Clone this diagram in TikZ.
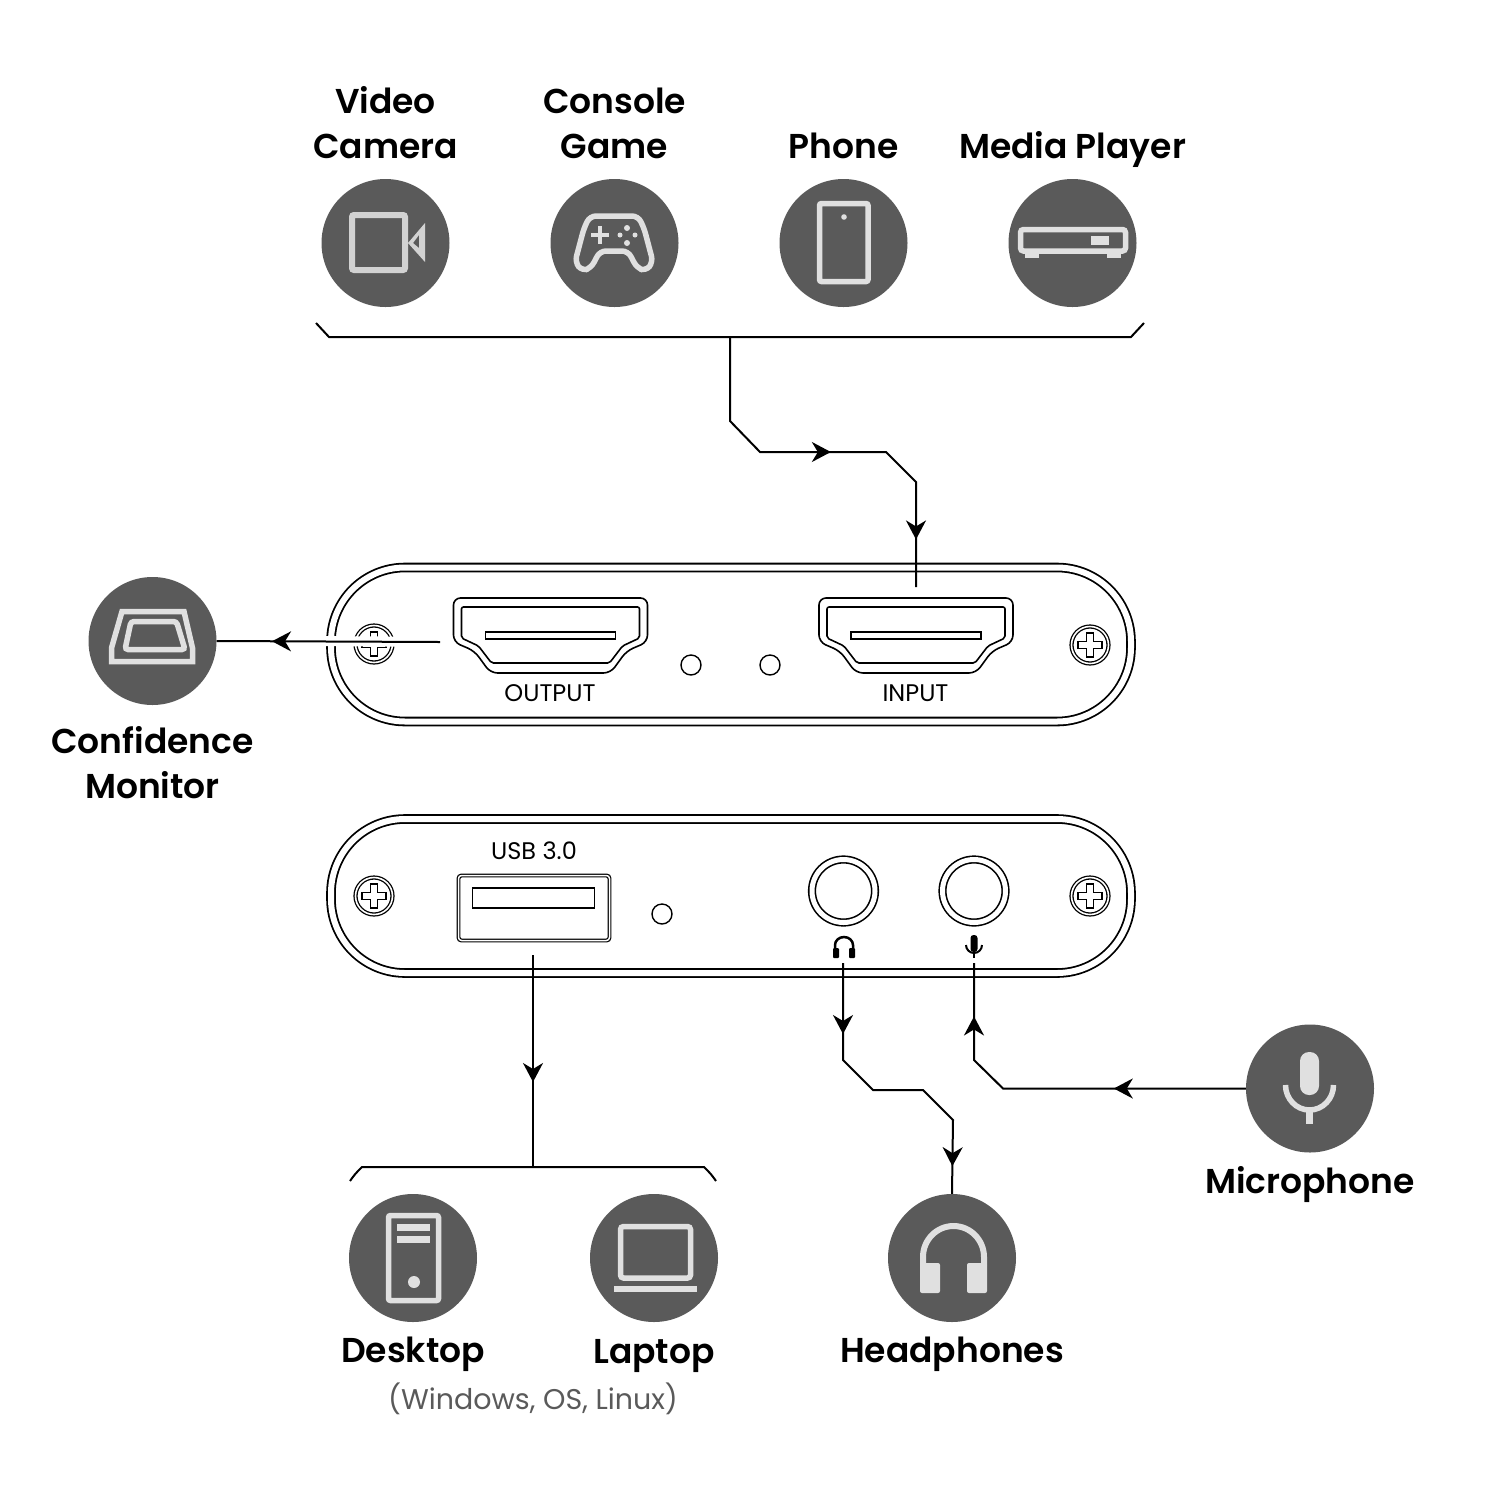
\documentclass[tikz,border=0pt]{standalone}
\usepackage{fontspec}
\setmainfont{Poppins}[BoldFont={Poppins SemiBold}]
\usetikzlibrary{positioning,arrows.meta,decorations.markings}
\definecolor{disc}{HTML}{5A5A5A}
\definecolor{glyph}{HTML}{E0E0E0}
\definecolor{camglyph}{HTML}{D2D2D2}
\tikzstyle{devcircle} = [circle, fill=disc, minimum size=128pt, inner sep=0pt]
\tikzstyle{devlabel} = [font=\fontsize{34.5}{45}\selectfont\bfseries, align=center, inner sep=0pt]
\tikzstyle{portlabel} = [font=\fontsize{24}{28}\selectfont, inner sep=0pt]
\tikzstyle{panelbox} = [rectangle, draw=black, double, double distance=6pt, line width=1.8pt, rounded corners=74pt, minimum width=800pt, minimum height=154pt]
\tikzstyle{jack} = [circle, draw=black, double, double distance=5pt, line width=1.6pt, minimum size=63pt, inner sep=0pt]
\tikzstyle{led} = [circle, draw=black, line width=1.4pt, minimum size=20pt, inner sep=0pt]
\tikzstyle{connect} = [line width=2pt]
\tikzstyle{iconline} = [draw=glyph, line width=5.5pt]
\tikzset{
  arrowat/.style={postaction={decorate, decoration={markings, mark=at position #1 with {\arrow{Stealth[length=19pt,width=20pt,inset=6pt]}}}}},
  hdmiport/.pic={
    \draw [line width=1.6pt, rounded corners=7pt] (-97,-38) -- (97,-38) -- (97,6) -- (76,15) -- (60,37) -- (-60,37) -- (-76,15) -- (-97,6) -- cycle;
    \draw [line width=1.6pt, rounded corners=2pt] (-89,-29) -- (89,-29) -- (89,2) -- (72,10) -- (59,27) -- (-59,27) -- (-72,10) -- (-89,2) -- cycle;
    \draw [line width=1.6pt] (-65,-4) rectangle (65,3);
  },
  screwhead/.pic={
    \draw [line width=1.3pt, double, double distance=1.6pt] (0,0) circle (18.5);
    \draw [line width=1.3pt] (-3.5,-12) -- (3.5,-12) -- (3.5,-3.5) -- (12,-3.5) -- (12,3.5) -- (3.5,3.5) -- (3.5,12) -- (-3.5,12) -- (-3.5,3.5) -- (-12,3.5) -- (-12,-3.5) -- (-3.5,-3.5) -- cycle;
  }
}
\begin{document}
\begin{tikzpicture}[x=1pt,y=-1pt,node distance=229pt]
	\useasboundingbox (0,0) rectangle (1500,1500);

	% source devices
	\node (cam) [devcircle] at (385.5,243) {};
	\node (game) [devcircle,right of=cam] {};
	\node (phone) [devcircle,right of=game] {};
	\node (player) [devcircle,right of=phone] {};
	\node (camtext) [devlabel,above of=cam,node distance=120pt] {Video\\Camera};
	\node (gametext) [devlabel,above of=game,node distance=120pt] {Console\\Game};
	\node (phonetext) [devlabel,above of=phone,node distance=97pt] {Phone};
	\node (playertext) [devlabel,above of=player,node distance=94pt] {Media Player};

	% capture box, front and back
	\node (front) [panelbox] at (731,644.5) {};
	\node (back) [panelbox,below of=front,node distance=251.5pt] {};
	\pic at (374,644) {screwhead};
	\pic at (1090,645) {screwhead};
	\pic at (374,896) {screwhead};
	\pic at (1090,896) {screwhead};
	\pic at (550.5,636) {hdmiport};
	\pic at (916,636) {hdmiport};
	\node (ledA) [led] at (691,665) {};
	\node (ledB) [led] at (770,665) {};
	\node (ledC) [led] at (662,914) {};
	\node (outtext) [portlabel] at (550,693) {OUTPUT};
	\node (intext) [portlabel] at (915.5,693) {INPUT};
	\node (usbtext) [portlabel] at (534,851) {USB 3.0};
	\node (usb) [rectangle,draw=black,double,double distance=1.5pt,line width=1.2pt,rounded corners=3pt,minimum width=151pt,minimum height=65pt,inner sep=0pt] at (534,908) {};
	\node (usbslot) [rectangle,draw=black,line width=1.5pt,minimum width=122pt,minimum height=20pt,inner sep=0pt] at (533.5,898) {};
	\node (hpjack) [jack] at (843.5,891) {};
	\node (micjack) [jack] at (974,891) {};
	% small marks under the jacks
	\draw [line width=2.5pt] (835,950) -- (835,945) arc (180:0:9 and -8) -- (853,950);
	\fill [rounded corners=1pt] (833,948) rectangle (839,958);
	\fill [rounded corners=1pt] (849,948) rectangle (855,958);
	\fill [rounded corners=3pt] (970.5,935) rectangle (977.5,952);
	\draw [line width=2pt] (966,945) arc (180:0:8);
	\draw [line width=2pt] (974,953) -- (974,958);

	% destination devices
	\node (mon) [devcircle] at (152.5,641) {};
	\node (montext) [devlabel,below of=mon,node distance=122pt] {Confidence\\Monitor};
	\node (desk) [devcircle] at (413,1258) {};
	\node (lap) [devcircle,right of=desk,node distance=241pt] {};
	\node (head) [devcircle,right of=lap,node distance=298pt] {};
	\node (mic) [devcircle] at (1310,1088.5) {};
	\node (desktext) [devlabel,below of=desk,node distance=96.5pt] {Desktop};
	\node (laptext) [devlabel,below of=lap,node distance=98pt] {Laptop};
	\node (headtext) [devlabel,below of=head,node distance=96.5pt] {Headphones};
	\node (mictext) [devlabel,below of=mic,node distance=96.5pt] {Microphone};
	\node (ostext) [font=\fontsize{28.5}{32}\selectfont,text=disc,inner sep=0pt] at (533,1399) {(Windows, OS, Linux)};

	% glyphs inside the discs
	\draw [draw=camglyph,line width=6pt,rounded corners=2pt] (352,215) rectangle (405,270);
	\fill [camglyph,even odd rule] (408,243) -- (425,223) -- (425,262) -- cycle (413,243) -- (419,248) -- (419,235) -- cycle;

	\draw [iconline,rounded corners=6pt] (590,216) -- (638,216) -- (644,228) -- (653,262) -- (646,271) -- (637,268) -- (628,251) -- (600,251) -- (591,268) -- (582,271) -- (575,262) -- (584,228) -- cycle;
	\draw [draw=glyph,line width=4pt] (591,235) -- (609,235) (600,226) -- (600,244);
	\fill [glyph] (627,228) circle (3) (627,243) circle (3) (635,235) circle (2.5) (620,235) circle (2.5);

	\draw [iconline,rounded corners=2pt] (819.5,203.5) rectangle (868,281.5);
	\fill [glyph] (844,217) circle (2.8);

	\draw [iconline,rounded corners=3pt] (1020.5,229.5) rectangle (1125.5,251);
	\fill [glyph] (1091,236) rectangle (1109,245);
	\fill [glyph] (1025,252) rectangle (1039,258);
	\fill [glyph] (1107,252) rectangle (1121,258);

	\draw [iconline,line join=miter] (122,611.5) -- (184,611.5) -- (192.5,648) -- (192.5,661.5) -- (111.5,661.5) -- (111.5,648) -- cycle;
	\draw [iconline,rounded corners=3pt] (131,621.5) -- (176.5,621.5) -- (185,649.5) -- (125,649.5) -- cycle;

	\draw [iconline,rounded corners=2pt] (388.5,1215.5) rectangle (438.5,1300.5);
	\fill [glyph] (396.5,1224) rectangle (430,1231);
	\fill [glyph] (396.5,1236) rectangle (430,1243);
	\fill [glyph] (414,1282) circle (6);

	\draw [iconline,rounded corners=3pt] (620.5,1226.5) rectangle (690.5,1278);
	\fill [glyph] (614,1286) rectangle (697,1292);

	\draw [draw=glyph,line width=6pt] (923,1265) -- (923,1257) arc (180:0:30.5 and -31) -- (984,1265);
	\fill [glyph,rounded corners=2pt] (920,1263) rectangle (940,1293);
	\fill [glyph,rounded corners=2pt] (967,1263) rectangle (987,1293);

	\fill [glyph,rounded corners=9pt] (1300,1052) rectangle (1319,1095);
	\draw [iconline] (1285.5,1085) arc (180:0:24 and 25);
	\fill [glyph] (1306,1108) rectangle (1313,1124);

	% brackets and connectors
	\coordinate (topmid) at (730,338);
	\coordinate (inend) at (916,587);
	\coordinate (outend) at (440,642);
	\coordinate (usbend) at (533,955);
	\coordinate (lowmid) at (533,1167);
	\coordinate (hpend) at (843,963);
	\coordinate (micend) at (974,963);
	\draw [connect] (316,323) -- (329,337) -- (1131,337) -- (1144,323);
	\draw [connect] (350,1181) .. controls (355,1174) .. (362,1167) -- (704,1167) .. controls (711,1174) .. (716,1181);

	\draw [white,line width=10pt] (320,641) -- (outend);
	\draw [connect,arrowat=168pt] (outend) -- (mon.east);
	\draw [connect,arrowat=197pt,arrowat=352pt] (topmid) -- (730,421) -- (760,452) -- (886,452) -- (916,482) -- (inend);
	\draw [connect,arrowat=127pt] (usbend) -- (lowmid);
	\draw [connect,arrowat=71pt,arrowat=278pt] (hpend) -- (843,1060) -- (873,1090) -- (923,1090) -- (953,1120) -- (head.north);
	\draw [connect,arrowat=132pt,arrowat=327pt] (mic.west) -- (1003,1088.5) -- (974,1060) -- (micend);
\end{tikzpicture}
\end{document}
